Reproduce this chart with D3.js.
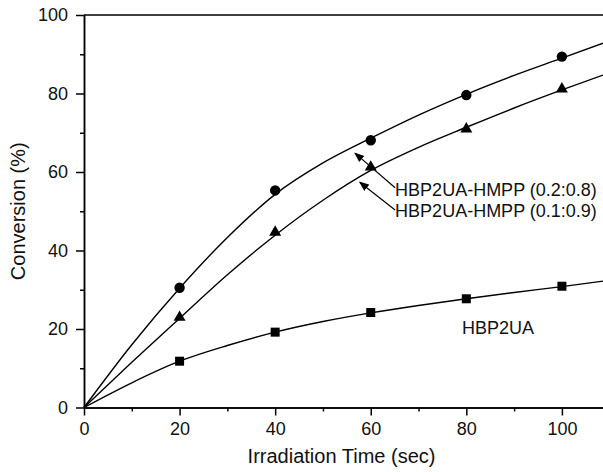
<!DOCTYPE html>
<html>
<head>
<meta charset="utf-8">
<script src="https://cdn.jsdelivr.net/npm/d3@7"></script>
<style>
  body { margin: 0; background: #fff; }
  svg { display: block; font-family: "Liberation Sans", Arial, sans-serif; }
</style>
</head>
<body>
<div id="chart-area"></div>
<script>
// measured points
const times = [20, 40, 60, 80, 100]
const hmpp28 = [30.5, 55.3, 68.1, 79.6, 89.4]
const hmpp19 = [22.7, 44.4, 61.0, 70.7, 80.9]
const hbp2ua = [11.8, 19.2, 24.2, 27.7, 30.9]

// fitted curves
const fitX = [0, 10, 20, 30, 40, 50, 60, 70, 80, 90, 100, 108.6]
const fit28 = [0, 16.0, 30.4, 43.3, 54.3, 62.3, 68.6, 74.5, 79.8, 84.6, 89.0, 92.8]
const fit19 = [0, 11.5, 22.7, 33.8, 43.9, 52.8, 60.4, 66.3, 71.4, 76.3, 80.9, 84.7]
const fitU = [0, 6.3, 11.8, 15.8, 19.2, 21.9, 24.1, 26.0, 27.7, 29.3, 30.8, 32.2]

const xTicks = [0, 20, 40, 60, 80, 100]
const yTicks = [0, 20, 40, 60, 80, 100]

const svgWidth = 603
const svgHeight = 472
const margin = { left: 84, right: 0, top: 15, bottom: 64.5 }

const svg = d3.select("#chart-area")
  .append("svg")
  .attr("width", svgWidth)
  .attr("height", svgHeight)

const xScale = d3.scaleLinear()
  .domain([0, 108.6])
  .range([margin.left, svgWidth - margin.right])

const yScale = d3.scaleLinear()
  .domain([0, 100])
  .range([svgHeight - margin.bottom, margin.top])

// axes
svg.append("g")
  .attr("transform", `translate(0,${yScale(0)})`)
  .call(d3.axisBottom(xScale).tickValues(xTicks).tickSize(8).tickSizeOuter(0).tickPadding(7))
svg.append("g")
  .attr("transform", `translate(0,${yScale(0)})`)
  .call(d3.axisBottom(xScale).tickValues(d3.range(10, 108, 20)).tickSize(4).tickFormat("").tickSizeOuter(0))

svg.append("g")
  .attr("transform", `translate(${xScale(0)},0)`)
  .call(d3.axisLeft(yScale).tickValues(yTicks).tickSize(8).tickSizeOuter(0).tickPadding(8))
svg.append("g")
  .attr("transform", `translate(${xScale(0)},0)`)
  .call(d3.axisLeft(yScale).tickValues(d3.range(10, 100, 20)).tickSize(4).tickFormat("").tickSizeOuter(0))

svg.selectAll(".domain, .tick line").attr("stroke", "#000").attr("stroke-width", 1.5)
svg.selectAll(".tick text").attr("font-size", 18).attr("fill", "#111")
  .attr("font-family", "Liberation Sans, Arial, sans-serif")

// top border
svg.append("line")
  .attr("x1", xScale(0)).attr("x2", xScale(108.6))
  .attr("y1", yScale(100)).attr("y2", yScale(100))
  .attr("stroke", "#000").attr("stroke-width", 1.5)

// axis titles
svg.append("text")
  .attr("x", (xScale(0) + xScale(108.6)) / 2 - 2)
  .attr("y", 463)
  .attr("text-anchor", "middle")
  .attr("font-size", 20)
  .attr("fill", "#111")
  .text("Irradiation Time (sec)")

svg.append("text")
  .attr("transform", `translate(25,${yScale(50)}) rotate(-90)`)
  .attr("text-anchor", "middle")
  .attr("font-size", 20)
  .attr("fill", "#111")
  .text("Conversion (%)")

// curves
const line = d3.line()
  .x((d, i) => xScale(fitX[i]))
  .y(d => yScale(d))
  .curve(d3.curveMonotoneX)

const plot = svg.append("g")
;[fit28, fit19, fitU].forEach(f => {
  plot.append("path")
    .attr("d", line(f))
    .attr("fill", "none")
    .attr("stroke", "#000")
    .attr("stroke-width", 1.4)
})

// markers
plot.selectAll(".circ")
  .data(hmpp28)
  .join("circle")
  .attr("cx", (d, i) => xScale(times[i]))
  .attr("cy", d => yScale(d))
  .attr("r", 5.2)
  .attr("fill", "#000")

const tri = d3.symbol().type(d3.symbolTriangle).size(62)
plot.selectAll(".tri")
  .data(hmpp19)
  .join("path")
  .attr("d", tri)
  .attr("transform", (d, i) => `translate(${xScale(times[i])},${yScale(d) - 1})`)
  .attr("fill", "#000")

plot.selectAll(".sq")
  .data(hbp2ua)
  .join("rect")
  .attr("x", (d, i) => xScale(times[i]) - 4.5)
  .attr("y", d => yScale(d) - 4.5)
  .attr("width", 9)
  .attr("height", 9)
  .attr("fill", "#000")

// annotations
svg.append("defs").append("marker")
  .attr("id", "head")
  .attr("viewBox", "0 0 10 10")
  .attr("refX", 9).attr("refY", 5)
  .attr("markerWidth", 10).attr("markerHeight", 10)
  .attr("markerUnits", "userSpaceOnUse")
  .attr("orient", "auto")
  .append("path")
  .attr("d", "M0,1 L10,5 L0,9 Z")
  .attr("fill", "#000")

const arrows = [
  { from: [65.1, 56.0], to: [56.7, 64.8] },
  { from: [65.1, 50.3], to: [57.7, 57.4] }
]
svg.selectAll(".arrow")
  .data(arrows)
  .join("line")
  .attr("x1", d => xScale(d.from[0])).attr("y1", d => yScale(d.from[1]))
  .attr("x2", d => xScale(d.to[0])).attr("y2", d => yScale(d.to[1]))
  .attr("stroke", "#000").attr("stroke-width", 1.2)
  .attr("marker-end", "url(#head)")

const labels = [
  { x: 65.1, y: 53.9, text: "HBP2UA-HMPP (0.2:0.8)" },
  { x: 65.1, y: 48.5, text: "HBP2UA-HMPP (0.1:0.9)" },
  { x: 79.1, y: 18.7, text: "HBP2UA" }
]
svg.selectAll(".lab")
  .data(labels)
  .join("text")
  .attr("x", d => xScale(d.x))
  .attr("y", d => yScale(d.y))
  .attr("font-size", 18)
  .attr("fill", "#111")
  .text(d => d.text)
</script>
</body>
</html>
